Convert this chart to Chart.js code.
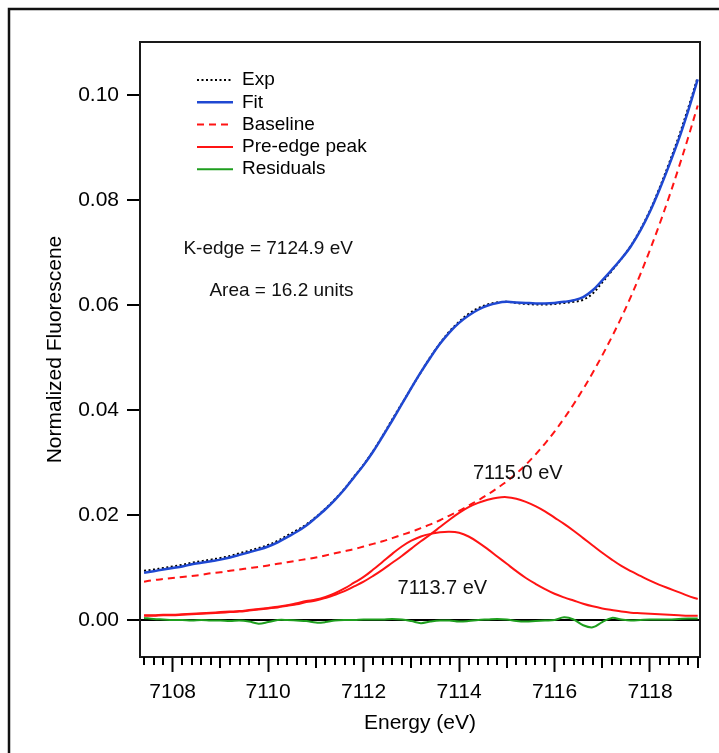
<!DOCTYPE html>
<html>
<head>
<meta charset="utf-8">
<script src="https://cdn.jsdelivr.net/npm/chart.js"></script>
<style>
html,body{margin:0;padding:0;background:#fff;}
#wrap{width:719px;height:753px;position:relative;}
</style>
</head>
<body>
<div id="wrap"><canvas id="c"></canvas></div>
<script>
// energy grid (eV)
const energy = [7107.4,7107.6,7107.8,7108.0,7108.2,7108.4,7108.6,7108.8,7109.0,7109.2,
  7109.4,7109.6,7109.8,7110.0,7110.2,7110.4,7110.6,7110.8,7111.0,7111.2,
  7111.4,7111.6,7111.8,7112.0,7112.2,7112.4,7112.6,7112.8,7113.0,7113.2,
  7113.4,7113.6,7113.8,7114.0,7114.2,7114.4,7114.6,7114.8,7115.0,7115.2,
  7115.4,7115.6,7115.8,7116.0,7116.2,7116.4,7116.6,7116.8,7117.0,7117.2,
  7117.4,7117.6,7117.8,7118.0,7118.2,7118.4,7118.6,7118.8,7119.0];

const expVals = [0.0094,0.0096,0.0099,0.0102,0.0105,0.0109,0.0112,0.0115,0.0118,0.0122,
  0.0127,0.0132,0.0137,0.0143,0.0151,0.0161,0.0171,0.0182,0.0196,0.0212,
  0.0230,0.0250,0.0273,0.0296,0.0322,0.0351,0.0382,0.0412,0.0442,0.0472,
  0.0501,0.0527,0.0550,0.0568,0.0583,0.0594,0.0601,0.0605,0.0606,0.0604,
  0.0602,0.0601,0.0601,0.0602,0.0604,0.0606,0.0610,0.0622,0.0643,0.0665,
  0.0688,0.0713,0.0744,0.0780,0.0823,0.0870,0.0920,0.0975,0.1034];

const fitVals = [0.0090,0.0093,0.0096,0.0099,0.0102,0.0106,0.0109,0.0112,0.0115,0.0119,
  0.0124,0.0129,0.0134,0.0140,0.0148,0.0158,0.0168,0.0180,0.0195,0.0211,
  0.0229,0.0249,0.0272,0.0295,0.0321,0.0350,0.0380,0.0411,0.0442,0.0472,
  0.0500,0.0526,0.0548,0.0566,0.0580,0.0591,0.0599,0.0604,0.0606,0.0605,
  0.0604,0.0603,0.0603,0.0604,0.0606,0.0609,0.0615,0.0628,0.0647,0.0667,
  0.0688,0.0712,0.0742,0.0778,0.0820,0.0866,0.0915,0.0970,0.1030];

const baseVals = [0.0073,0.0076,0.0078,0.0080,0.0082,0.0084,0.0086,0.0089,0.0091,0.0094,
  0.0096,0.0099,0.0101,0.0104,0.0107,0.0110,0.0113,0.0116,0.0119,0.0123,
  0.0127,0.0131,0.0135,0.0140,0.0145,0.0150,0.0156,0.0162,0.0168,0.0175,
  0.0182,0.0190,0.0199,0.0208,0.0218,0.0228,0.0239,0.0251,0.0264,0.0279,
  0.0296,0.0315,0.0336,0.0359,0.0384,0.0411,0.0440,0.0471,0.0504,0.0539,
  0.0576,0.0616,0.0659,0.0705,0.0754,0.0806,0.0861,0.0919,0.0980];

const peak1Vals = [0.0009,0.0009,0.0010,0.0010,0.0011,0.0012,0.0013,0.0014,0.0015,0.0016,
  0.0017,0.0019,0.0021,0.0023,0.0025,0.0028,0.0032,0.0036,0.0039,0.0044,
  0.0051,0.0060,0.0071,0.0082,0.0096,0.0111,0.0126,0.0140,0.0151,0.0159,
  0.0164,0.0167,0.0168,0.0166,0.0159,0.0148,0.0135,0.0121,0.0107,0.0093,
  0.0080,0.0069,0.0059,0.0050,0.0043,0.0037,0.0031,0.0026,0.0022,0.0019,
  0.0016,0.0014,0.0013,0.0012,0.0011,0.0010,0.0009,0.0008,0.0008];

const peak2Vals = [0.0008,0.0008,0.0009,0.0009,0.0010,0.0011,0.0012,0.0013,0.0014,0.0015,
  0.0016,0.0018,0.0020,0.0022,0.0024,0.0027,0.0030,0.0034,0.0037,0.0042,
  0.0048,0.0055,0.0064,0.0073,0.0084,0.0096,0.0109,0.0122,0.0136,0.0150,
  0.0163,0.0177,0.0191,0.0204,0.0215,0.0223,0.0229,0.0233,0.0234,0.0231,
  0.0225,0.0217,0.0207,0.0195,0.0183,0.0170,0.0156,0.0142,0.0128,0.0115,
  0.0103,0.0093,0.0084,0.0075,0.0067,0.0060,0.0053,0.0046,0.0040];

const residVals = [0.0004,0.0002,0.0001,0.0000,0.0000,-0.0001,0.0000,-0.0001,-0.0001,-0.0002,
  -0.0001,-0.0003,-0.0007,-0.0004,0.0000,0.0000,-0.0001,-0.0002,-0.0005,-0.0004,
  -0.0001,0.0000,0.0000,0.0001,0.0001,0.0001,0.0002,0.0001,-0.0002,-0.0006,
  -0.0003,-0.0001,-0.0001,-0.0003,-0.0002,0.0000,0.0001,0.0002,0.0001,-0.0002,
  -0.0003,-0.0002,-0.0001,0.0000,0.0005,0.0001,-0.0010,-0.0014,-0.0004,0.0004,
  0.0001,-0.0001,0.0000,0.0001,0.0001,0.0001,0.0002,0.0003,0.0003];

const yTicks = [0.00, 0.02, 0.04, 0.06, 0.08, 0.10];

const notes = [
  {text: 'K-edge = 7124.9 eV', e: 7110.00, v: 0.0697},
  {text: 'Area = 16.2 units',  e: 7110.28, v: 0.0617},
  {text: '7115.0 eV',          e: 7115.23, v: 0.0268},
  {text: '7113.7 eV',          e: 7113.65, v: 0.0050}
];

const FONT = "'Liberation Sans', Arial, sans-serif";
Chart.defaults.font.family = FONT;
Chart.defaults.color = '#000';

const pts = vals => energy.map((e, i) => ({x: e, y: vals[i]}));

const RED = '#ff1414';
const datasets = [
  {label: 'Fit', data: pts(fitVals), borderColor: '#1f48d2', borderWidth: 2.5, order: 0},
  {label: 'Exp', data: pts(expVals), borderColor: '#000', borderWidth: 2, borderDash: [2, 2.5], order: 1},
  {label: 'Baseline', data: pts(baseVals), borderColor: RED, borderWidth: 2, borderDash: [7, 5], order: 2},
  {label: 'Pre-edge peak', data: pts(peak1Vals), borderColor: RED, borderWidth: 2, order: 3},
  {label: '', data: pts(peak2Vals), borderColor: RED, borderWidth: 2, order: 4},
  {label: 'Residuals', data: pts(residVals), borderColor: '#1e9e1e', borderWidth: 2, order: 5}
];
const legendOrder = ['Exp', 'Fit', 'Baseline', 'Pre-edge peak', 'Residuals'];

const decor = {
  id: 'decor',
  beforeDraw(chart) {
    const {ctx, width, height} = chart;
    ctx.save();
    ctx.fillStyle = '#fff';
    ctx.fillRect(0, 0, width, height);
    ctx.strokeStyle = '#111';
    ctx.lineWidth = 2.5;
    ctx.beginPath();
    ctx.moveTo(9, height);
    ctx.lineTo(9, 9);
    ctx.lineTo(width, 9);
    ctx.stroke();
    ctx.restore();
  },
  afterDraw(chart) {
    const {ctx, chartArea: a, scales: {x, y}} = chart;
    ctx.save();
    // frame
    ctx.strokeStyle = '#1a1a1a';
    ctx.lineWidth = 2;
    ctx.strokeRect(a.left, a.top, a.right - a.left, a.bottom - a.top);
    // minor x ticks
    ctx.strokeStyle = '#000';
    for (let k = Math.ceil(x.min * 5); k <= Math.floor(x.max * 5); k++) {
      if (k % 10 === 0) continue;
      const px = Math.round(x.getPixelForValue(k / 5));
      const len = k % 5 === 0 ? 11 : 8;
      ctx.beginPath();
      ctx.moveTo(px, a.bottom);
      ctx.lineTo(px, a.bottom + len);
      ctx.stroke();
    }
    // legend
    ctx.font = '19px ' + FONT;
    ctx.textBaseline = 'middle';
    ctx.textAlign = 'left';
    legendOrder.forEach((name, i) => {
      const ds = chart.data.datasets.find(d => d.label === name);
      const cy = 80 + i * 22.3;
      ctx.strokeStyle = ds.borderColor;
      ctx.lineWidth = ds.borderWidth;
      ctx.setLineDash(ds.borderDash || []);
      ctx.beginPath();
      ctx.moveTo(197, cy);
      ctx.lineTo(233, cy);
      ctx.stroke();
      ctx.setLineDash([]);
      ctx.fillStyle = '#000';
      ctx.fillText(name, 242, cy);
    });
    // annotations
    ctx.textAlign = 'center';
    ctx.textBaseline = 'alphabetic';
    notes.forEach((n, i) => {
      ctx.font = (i < 2 ? '19px ' : '20px ') + FONT;
      ctx.fillStyle = '#111';
      ctx.fillText(n.text, x.getPixelForValue(n.e), y.getPixelForValue(n.v));
    });
    ctx.restore();
  }
};

new Chart(document.getElementById('c'), {
  type: 'line',
  data: {datasets},
  options: {
    responsive: true,
    maintainAspectRatio: false,
    animation: false,
    layout: {padding: {left: 0, top: 42, right: 19, bottom: 0}},
    elements: {
      point: {radius: 0},
      line: {tension: 0.35, fill: false, borderCapStyle: 'butt'}
    },
    plugins: {legend: {display: false}, tooltip: {enabled: false}},
    scales: {
      x: {
        type: 'linear',
        min: 7107.315,
        max: 7119.048,
        afterFit: s => { s.height = 96; },
        border: {display: false},
        grid: {display: true, drawOnChartArea: false, drawTicks: true, tickLength: 15, tickWidth: 2, tickColor: '#000'},
        ticks: {stepSize: 2, includeBounds: false, padding: 8, font: {size: 21}, color: '#000',
          callback: v => String(v)},
        title: {display: true, text: 'Energy (eV)', font: {size: 21}, color: '#000', padding: {top: 0, bottom: 17}}
      },
      y: {
        type: 'linear',
        min: -0.00705,
        max: 0.1101,
        afterFit: s => { s.width = 140; },
        afterBuildTicks: s => { s.ticks = yTicks.map(v => ({value: v})); },
        border: {display: false},
        grid: {
          drawTicks: true, tickLength: 13, tickWidth: 2, tickColor: '#000',
          color: c => (c.tick && c.tick.value === 0 ? '#000' : 'rgba(0,0,0,0)'),
          lineWidth: 2
        },
        ticks: {padding: 8, font: {size: 21}, color: '#000', callback: v => Number(v).toFixed(2)},
        title: {display: true, text: 'Normalized Fluorescene', font: {size: 21}, color: '#000', padding: {top: 43, bottom: 0}}
      }
    }
  },
  plugins: [decor]
});
</script>
</body>
</html>
